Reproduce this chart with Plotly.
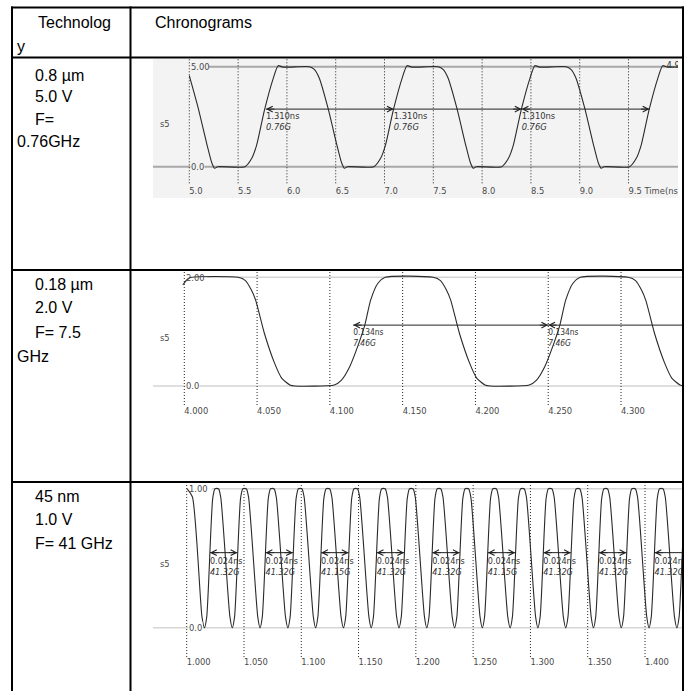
import plotly.graph_objects as go

W, H = 694, 691

# ---------------- table text ----------------
header_left = ["Technolog", "y"]
header_right = "Chronograms"
tech_text = [
    ["0.8 µm", "5.0 V", "F=", "0.76GHz"],
    ["0.18 µm", "2.0 V", "F= 7.5", "GHz"],
    ["45 nm", "1.0 V", "F= 41 GHz"],
]
signal_name = "s5"

# ---------------- row 1 : 0.8 um / 5.0 V (time in ns, volts) ----------------
r1_t = [5.00, 5.09, 5.18, 5.23, 5.26, 5.29,
        5.57, 5.64, 5.69, 5.77, 5.86, 5.91, 5.96, 6.23, 6.28, 6.33, 6.42, 6.51, 6.56, 6.59, 6.62,
        6.89, 6.96, 7.01, 7.09, 7.18, 7.23, 7.28, 7.55, 7.60, 7.65, 7.74, 7.83, 7.88, 7.91, 7.94,
        8.20, 8.27, 8.32, 8.40, 8.49, 8.54, 8.59, 8.86, 8.91, 8.96, 9.05, 9.14, 9.19, 9.22, 9.25,
        9.51, 9.58, 9.63, 9.71, 9.80, 9.85, 9.90, 10.01]
r1_v = [4.55, 2.95, 1.12, 0.20, -0.08, 0.00,
        0.00, 0.42, 1.08, 2.83, 4.42, 5.05, 4.98, 5.00, 4.87, 4.45, 2.95, 1.12, 0.20, -0.08, 0.00,
        0.00, 0.42, 1.08, 2.83, 4.42, 5.05, 4.98, 5.00, 4.87, 4.45, 2.95, 1.12, 0.20, -0.08, 0.00,
        0.00, 0.42, 1.08, 2.83, 4.42, 5.05, 4.98, 5.00, 4.87, 4.45, 2.95, 1.12, 0.20, -0.08, 0.00,
        0.00, 0.42, 1.08, 2.83, 4.42, 5.05, 4.98, 5.00]
r1_ticks = [5.0, 5.5, 6.0, 6.5, 7.0, 7.5, 8.0, 8.5, 9.0, 9.5]
r1_ticktext = ["5.0", "5.5", "6.0", "6.5", "7.0", "7.5", "8.0", "8.5", "9.0", "9.5 Time(ns)"]
r1_levels = [0.0, 5.0]
r1_level_text = ["0.0", "5.00"]
r1_marks = [5.785, 7.095, 8.405, 9.715]
r1_mark_v = 2.88
r1_period = ["1.310ns", "1.310ns", "1.310ns"]
r1_freq = ["0.76G", "0.76G", "0.76G"]
r1_end_t, r1_end_v, r1_end_text = 9.89, 5.05, "4.99"

# ---------------- row 2 : 0.18 um / 2.0 V ----------------
r2_t = [3.999, 4.002, 4.005, 4.037, 4.042, 4.046, 4.049, 4.055, 4.062, 4.067, 4.0725, 4.076,
        4.103, 4.108, 4.1137, 4.119, 4.124, 4.128, 4.133, 4.138,
        4.171, 4.176, 4.180, 4.183, 4.189, 4.196, 4.201, 4.2065, 4.210,
        4.237, 4.242, 4.2477, 4.253, 4.258, 4.262, 4.267, 4.272,
        4.305, 4.310, 4.314, 4.317, 4.323, 4.330, 4.335, 4.3405, 4.344]
r2_v = [1.86, 1.96, 2.00, 2.00, 1.94, 1.77, 1.58, 0.97, 0.42, 0.14, 0.02, 0.00,
        0.02, 0.11, 0.36, 0.72, 1.12, 1.58, 1.89, 2.00,
        2.00, 1.94, 1.77, 1.58, 0.97, 0.42, 0.14, 0.02, 0.00,
        0.02, 0.11, 0.36, 0.72, 1.12, 1.58, 1.89, 2.00,
        2.00, 1.94, 1.77, 1.58, 0.97, 0.42, 0.14, 0.02, 0.00]
r2_ticks = [4.000, 4.050, 4.100, 4.150, 4.200, 4.250, 4.300]
r2_ticktext = ["4.000", "4.050", "4.100", "4.150", "4.200", "4.250", "4.300"]
r2_levels = [0.0, 2.0]
r2_level_text = ["0.0", "2.00"]
r2_marks = [4.116, 4.250, 4.384]
r2_mark_v = 1.12
r2_period = ["0.134ns", "0.134ns"]
r2_freq = ["7.46G", "7.46G"]

# ---------------- row 3 : 45 nm / 1.0 V ----------------
r3_t = [1.0002, 1.0050, 1.0133,
        1.0155, 1.0175, 1.0227, 1.0247, 1.0277, 1.0297, 1.0377,
        1.0398, 1.0418, 1.0470, 1.0490, 1.0520, 1.0540, 1.0620,
        1.0640, 1.0660, 1.0712, 1.0732, 1.0762, 1.0782, 1.0862,
        1.0883, 1.0903, 1.0955, 1.0975, 1.1005, 1.1025, 1.1105,
        1.1125, 1.1145, 1.1197, 1.1217, 1.1247, 1.1267, 1.1347,
        1.1368, 1.1388, 1.1440, 1.1460, 1.1490, 1.1510, 1.1590,
        1.1610, 1.1630, 1.1682, 1.1702, 1.1732, 1.1752, 1.1832,
        1.1853, 1.1873, 1.1925, 1.1945, 1.1975, 1.1995, 1.2075,
        1.2095, 1.2115, 1.2167, 1.2187, 1.2217, 1.2237, 1.2317,
        1.2338, 1.2358, 1.2410, 1.2430, 1.2460, 1.2480, 1.2560,
        1.2580, 1.2600, 1.2652, 1.2672, 1.2702, 1.2722, 1.2802,
        1.2823, 1.2843, 1.2895, 1.2915, 1.2945, 1.2965, 1.3045,
        1.3065, 1.3085, 1.3137, 1.3157, 1.3187, 1.3207, 1.3287,
        1.3308, 1.3328, 1.3380, 1.3400, 1.3430, 1.3450, 1.3530,
        1.3550, 1.3570, 1.3622, 1.3642, 1.3672, 1.3692, 1.3772,
        1.3793, 1.3813, 1.3865, 1.3885, 1.3915, 1.3935, 1.4015,
        1.4035, 1.4055, 1.4107, 1.4127, 1.4157, 1.4177, 1.4257,
        1.4278, 1.4298, 1.4350, 1.4370]
r3_v = [1.00, 0.94, 0.08,
        0.00, 0.08, 0.93, 1.00, 1.00, 0.94, 0.08,
        0.00, 0.08, 0.93, 1.00, 1.00, 0.94, 0.08,
        0.00, 0.08, 0.93, 1.00, 1.00, 0.94, 0.08,
        0.00, 0.08, 0.93, 1.00, 1.00, 0.94, 0.08,
        0.00, 0.08, 0.93, 1.00, 1.00, 0.94, 0.08,
        0.00, 0.08, 0.93, 1.00, 1.00, 0.94, 0.08,
        0.00, 0.08, 0.93, 1.00, 1.00, 0.94, 0.08,
        0.00, 0.08, 0.93, 1.00, 1.00, 0.94, 0.08,
        0.00, 0.08, 0.93, 1.00, 1.00, 0.94, 0.08,
        0.00, 0.08, 0.93, 1.00, 1.00, 0.94, 0.08,
        0.00, 0.08, 0.93, 1.00, 1.00, 0.94, 0.08,
        0.00, 0.08, 0.93, 1.00, 1.00, 0.94, 0.08,
        0.00, 0.08, 0.93, 1.00, 1.00, 0.94, 0.08,
        0.00, 0.08, 0.93, 1.00, 1.00, 0.94, 0.08,
        0.00, 0.08, 0.93, 1.00, 1.00, 0.94, 0.08,
        0.00, 0.08, 0.93, 1.00, 1.00, 0.94, 0.08,
        0.00, 0.08, 0.93, 1.00, 1.00, 0.94, 0.08,
        0.00, 0.08, 0.93, 1.00]
r3_ticks = [1.000, 1.050, 1.100, 1.150, 1.200, 1.250, 1.300, 1.350, 1.400]
r3_ticktext = ["1.000", "1.050", "1.100", "1.150", "1.200", "1.250", "1.300", "1.350", "1.400"]
r3_levels = [0.0, 1.0]
r3_level_text = ["0.0", "1.00"]
r3_marks = [1.0203, 1.0688, 1.1173, 1.1658, 1.2143, 1.2628, 1.3113, 1.3598, 1.4083]
r3_mark_v = 0.54
r3_mark_dt = 0.024
r3_period = ["0.024ns"] * 9
r3_freq = ["41.32G", "41.32G", "41.15G", "41.32G", "41.32G", "41.15G", "41.32G", "41.32G", "41.32G"]

# ---------------- layout helpers (pixel -> paper) ----------------
def pxx(p):
    return p / W


def pxy(p):
    return 1 - p / H


FONT = "Liberation Sans, Arial, sans-serif"
SFONT = "Liberation Sans Narrow, Arial Narrow, DejaVu Sans Condensed, Liberation Sans, sans-serif"
SMALL = dict(family=SFONT, size=9.3, color="#4a4a4a")

rows = [
    dict(sfx="", xd=(153, 678), yd=(59, 198), xr=(4.628, 10.007), yr=(-1.565, 5.385),
         bg="#f3f3f3", refc="#a8a8a8", refw=2, dot_lo=-0.83, tick_y=-1.25, top_start=5.20,
         s5_y=123, t=r1_t, v=r1_v, ticks=r1_ticks, ticktext=r1_ticktext,
         levels=r1_levels, level_text=r1_level_text, ns_y=2.52, g_y=1.95, lbl_size=9.3),
    dict(sfx="2", xd=(153, 682), yd=(271, 430), xr=(3.9785, 4.3419), yr=(-0.810, 2.116),
         bg="#ffffff", refc="#d4d4d4", refw=1.6, dot_lo=-0.35, tick_y=-0.473, top_start=4.0155,
         s5_y=337, t=r2_t, v=r2_v, ticks=r2_ticks, ticktext=r2_ticktext,
         levels=r2_levels, level_text=r2_level_text, ns_y=0.98, g_y=0.78, lbl_size=8.4),
    dict(sfx="3", xd=(153, 682), yd=(483, 680), xr=(0.97059, 1.43229), yr=(-0.376, 1.041),
         bg="#ffffff", refc="#d6d6d6", refw=1.6, dot_lo=-0.211, tick_y=-0.254, top_start=1.022,
         s5_y=563, t=r3_t, v=r3_v, ticks=r3_ticks, ticktext=r3_ticktext,
         levels=r3_levels, level_text=r3_level_text, ns_y=0.476, g_y=0.394, lbl_size=9.0),
]

fig = go.Figure()
shapes = []
annotations = []

for cfg in rows:
    s = cfg["sfx"]
    xa, ya = "x" + s, "y" + s
    fig.update_layout(**{
        "xaxis" + s: dict(domain=[pxx(cfg["xd"][0]), pxx(cfg["xd"][1])], range=list(cfg["xr"]),
                          visible=False, anchor=ya, fixedrange=True),
        "yaxis" + s: dict(domain=[pxy(cfg["yd"][1]), pxy(cfg["yd"][0])], range=list(cfg["yr"]),
                          visible=False, anchor=xa, fixedrange=True),
    })
    if cfg["bg"] != "#ffffff":
        shapes.append(dict(type="rect", xref=xa + " domain", yref=ya + " domain",
                           x0=0, x1=1, y0=0, y1=1, fillcolor=cfg["bg"], line=dict(width=0),
                           layer="below"))
    lo, hi = cfg["levels"]
    # reference levels
    fig.add_trace(go.Scatter(x=[cfg["xr"][0], cfg["xr"][1]], y=[lo, lo], mode="lines",
                             line=dict(color=cfg["refc"], width=cfg["refw"]), xaxis=xa, yaxis=ya,
                             hoverinfo="skip"))
    fig.add_trace(go.Scatter(x=[cfg["top_start"], cfg["xr"][1]], y=[hi, hi], mode="lines",
                             line=dict(color=cfg["refc"], width=cfg["refw"]), xaxis=xa, yaxis=ya,
                             hoverinfo="skip"))
    # dotted time grid
    gx, gy = [], []
    for tk in cfg["ticks"]:
        gx += [tk, tk, None]
        gy += [cfg["dot_lo"], cfg["yr"][1], None]
    fig.add_trace(go.Scatter(x=gx, y=gy, mode="lines",
                             line=dict(color="#222222", width=1, dash="1px,2px"),
                             xaxis=xa, yaxis=ya, hoverinfo="skip"))
    # waveform
    fig.add_trace(go.Scatter(x=cfg["t"], y=cfg["v"], mode="lines",
                             line=dict(color="#2a2a2a", width=1.1, shape="spline", smoothing=0.6),
                             xaxis=xa, yaxis=ya, hoverinfo="skip"))
    # tick labels
    fig.add_trace(go.Scatter(x=cfg["ticks"], y=[cfg["tick_y"]] * len(cfg["ticks"]), mode="text",
                             text=cfg["ticktext"], textposition="middle right", textfont=SMALL,
                             xaxis=xa, yaxis=ya, hoverinfo="skip", cliponaxis=True))
    # level labels
    annotations.append(dict(x=cfg["ticks"][0], y=lo, xref=xa, yref=ya, text=cfg["level_text"][0],
                            showarrow=False, xanchor="left", yanchor="middle", xshift=1,
                            bgcolor=cfg["bg"], borderpad=0, font=SMALL))
    annotations.append(dict(x=cfg["ticks"][0], y=hi, xref=xa, yref=ya, text=cfg["level_text"][1],
                            showarrow=False, xanchor="left", yanchor="middle", xshift=1,
                            borderpad=0, font=SMALL))
    annotations.append(dict(x=pxx(158), y=pxy(cfg["s5_y"]), xref="paper", yref="paper",
                            text=signal_name, showarrow=False, xanchor="left", yanchor="middle",
                            font=SMALL))


def head(xv, yv, s, direction):
    return dict(x=xv, y=yv, xref="x" + s, yref="y" + s, ax=-10 * direction, ay=0,
                showarrow=True, arrowhead=5, arrowsize=1.1, arrowwidth=1, arrowcolor="#222222",
                text="")


def mark_labels(s, xs, ns_txt, g_txt, cfg):
    fs = cfg["lbl_size"]
    fig.add_trace(go.Scatter(x=xs, y=[cfg["ns_y"]] * len(xs), mode="text", text=ns_txt,
                             textposition="middle right",
                             textfont=dict(family=SFONT, size=fs, color="#333333"),
                             xaxis="x" + s, yaxis="y" + s, hoverinfo="skip", cliponaxis=True))
    fig.add_trace(go.Scatter(x=xs, y=[cfg["g_y"]] * len(xs), mode="text", text=g_txt,
                             textposition="middle right",
                             textfont=dict(family=SFONT, size=fs, color="#333333", style="italic"),
                             xaxis="x" + s, yaxis="y" + s, hoverinfo="skip", cliponaxis=True))


# row 1 period markers
fig.add_trace(go.Scatter(x=[r1_marks[0], r1_marks[-1]], y=[r1_mark_v, r1_mark_v], mode="lines",
                         line=dict(color="#222222", width=1), xaxis="x", yaxis="y", hoverinfo="skip"))
annotations += [head(r1_marks[0], r1_mark_v, "", -1), head(r1_marks[1], r1_mark_v, "", 1),
                head(r1_marks[2], r1_mark_v, "", 1), head(r1_marks[2], r1_mark_v, "", -1),
                head(r1_marks[3], r1_mark_v, "", 1)]
mark_labels("", r1_marks[:3], r1_period, r1_freq, rows[0])
fig.add_trace(go.Scatter(x=[r1_end_t], y=[r1_end_v], mode="text", text=[r1_end_text],
                         textposition="middle right",
                         textfont=dict(family=SFONT, size=9.3, color="#333333"),
                         xaxis="x", yaxis="y", hoverinfo="skip", cliponaxis=True))

# row 2 period markers
fig.add_trace(go.Scatter(x=[r2_marks[0], r2_marks[-1]], y=[r2_mark_v, r2_mark_v], mode="lines",
                         line=dict(color="#222222", width=1), xaxis="x2", yaxis="y2",
                         hoverinfo="skip", cliponaxis=True))
annotations += [head(r2_marks[0], r2_mark_v, "2", -1), head(r2_marks[1], r2_mark_v, "2", 1),
                head(r2_marks[1], r2_mark_v, "2", -1)]
mark_labels("2", r2_marks[:2], r2_period, r2_freq, rows[1])

# row 3 period markers
mx, my = [], []
for m in r3_marks:
    mx += [m, m + r3_mark_dt, None]
    my += [r3_mark_v, r3_mark_v, None]
    annotations += [head(m, r3_mark_v, "3", -1), head(m + r3_mark_dt, r3_mark_v, "3", 1)]
fig.add_trace(go.Scatter(x=mx, y=my, mode="lines", line=dict(color="#222222", width=1),
                         xaxis="x3", yaxis="y3", hoverinfo="skip", cliponaxis=True))
mark_labels("3", r3_marks, r3_period, r3_freq, rows[2])

# ---------------- table grid ----------------
BL = dict(color="black", width=2)
for yy in [7.5, 57.5, 270, 482]:
    shapes.append(dict(type="line", xref="paper", yref="paper", x0=pxx(11), x1=pxx(684),
                       y0=pxy(yy), y1=pxy(yy), line=BL))
for xx in [12, 130.5, 683]:
    shapes.append(dict(type="line", xref="paper", yref="paper", x0=pxx(xx), x1=pxx(xx),
                       y0=pxy(6.5), y1=pxy(695), line=BL))

BIG = dict(family=FONT, size=16, color="black")


def txt(x, y, t):
    annotations.append(dict(x=pxx(x), y=pxy(y), xref="paper", yref="paper", text=t,
                            showarrow=False, xanchor="left", yanchor="middle", font=BIG,
                            borderpad=0))


txt(37, 22.5, header_left[0])
txt(16, 47, header_left[1])
txt(154, 22.5, header_right)
row_y = [[75, 97, 119.7, 142], [284.5, 307.8, 332, 356], [496.2, 519.5, 543.7]]
row_indent = [[True, True, True, False], [True, True, True, False], [True, True, True]]
for lines, ys, ind in zip(tech_text, row_y, row_indent):
    for line, yy, i in zip(lines, ys, ind):
        txt(34 if i else 16, yy, line)

fig.update_layout(width=W, height=H, margin=dict(l=0, r=0, t=0, b=0), autosize=False,
                  paper_bgcolor="white", plot_bgcolor="rgba(0,0,0,0)", showlegend=False,
                  shapes=shapes, annotations=annotations, hovermode=False)

fig.write_html("out.html", post_script="document.body.style.margin='0px';",
               config={"displayModeBar": False})
